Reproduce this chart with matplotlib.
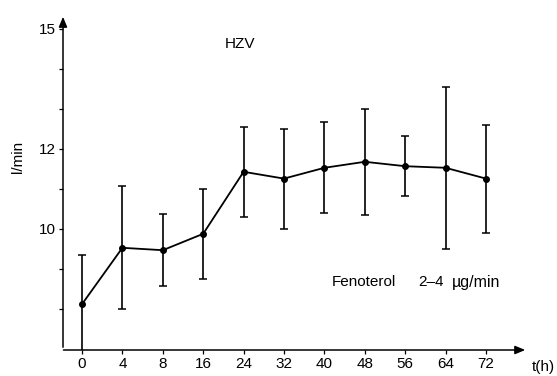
import matplotlib.pyplot as plt

# data (HZV over time, Fenoterol)
hours = ['0', '4', '8', '16', '24', '32', '40', '48', '56', '64', '72']
hzv = [8.12, 9.53, 9.47, 9.88, 11.43, 11.26, 11.53, 11.68, 11.57, 11.53, 11.26]
err = [1.22, 1.54, 0.90, 1.13, 1.13, 1.25, 1.14, 1.33, 0.75, 2.02, 1.35]

plt.rcParams['font.family'] = ['Liberation Sans', 'DejaVu Sans']

fig = plt.figure(figsize=(5.57, 3.76), dpi=100)
W, H = 557, 376
ax = fig.add_axes([63 / W, 1 - 350 / H, (528 - 63) / W, (350 - 14) / H])

x = list(range(len(hours)))
ax.errorbar(x, hzv, yerr=err, color='black', lw=1.3, elinewidth=1.2,
            capsize=3, capthick=1.1, marker='o', markersize=4)

ax.set_xlim(-0.47, 11.04)
ax.set_ylim(6.975, 15.375)

for s in ['top', 'right', 'left', 'bottom']:
    ax.spines[s].set_visible(False)

# axes with arrow heads
ax.annotate('', xy=(0, 1.0), xytext=(0, 0), xycoords='axes fraction',
            arrowprops=dict(arrowstyle='-|>,head_width=0.25,head_length=0.6',
                            color='black', lw=1.1))
ax.annotate('', xy=(1.0, 0), xytext=(-0.005, 0), xycoords='axes fraction',
            arrowprops=dict(arrowstyle='-|>,head_width=0.25,head_length=0.6',
                            color='black', lw=1.1))

ax.set_xticks(x)
ax.set_xticklabels(hours, fontsize=11)
ax.tick_params(axis='x', direction='out', length=3, width=0.9, pad=2)

ax.set_yticks([10, 12, 15])
ax.set_yticklabels(['10', '12', '15'], fontsize=11)
ax.set_yticks([8, 9, 11, 13, 14], minor=True)
ax.tick_params(axis='y', which='both', direction='out', length=3, width=0.9, pad=2)

fig.text(18 / W, 1 - 157 / H, 'l/min', fontsize=11, rotation=90,
         ha='center', va='center')
fig.text(240 / W, 1 - 44 / H, 'HZV', fontsize=11, ha='center', va='center')
fig.text(332 / W, 1 - 282 / H, 'Fenoterol', fontsize=11, ha='left', va='center')
fig.text(418 / W, 1 - 282 / H, '2\u20134', fontsize=11, ha='left', va='center')
fig.text(452 / W, 1 - 282 / H, '\u00b5g/min', fontsize=11.5,
         ha='left', va='center')
fig.text(543 / W, 1 - 367 / H, 't(h)', fontsize=11, ha='center', va='center')

fig.savefig('out.png', dpi=100)
